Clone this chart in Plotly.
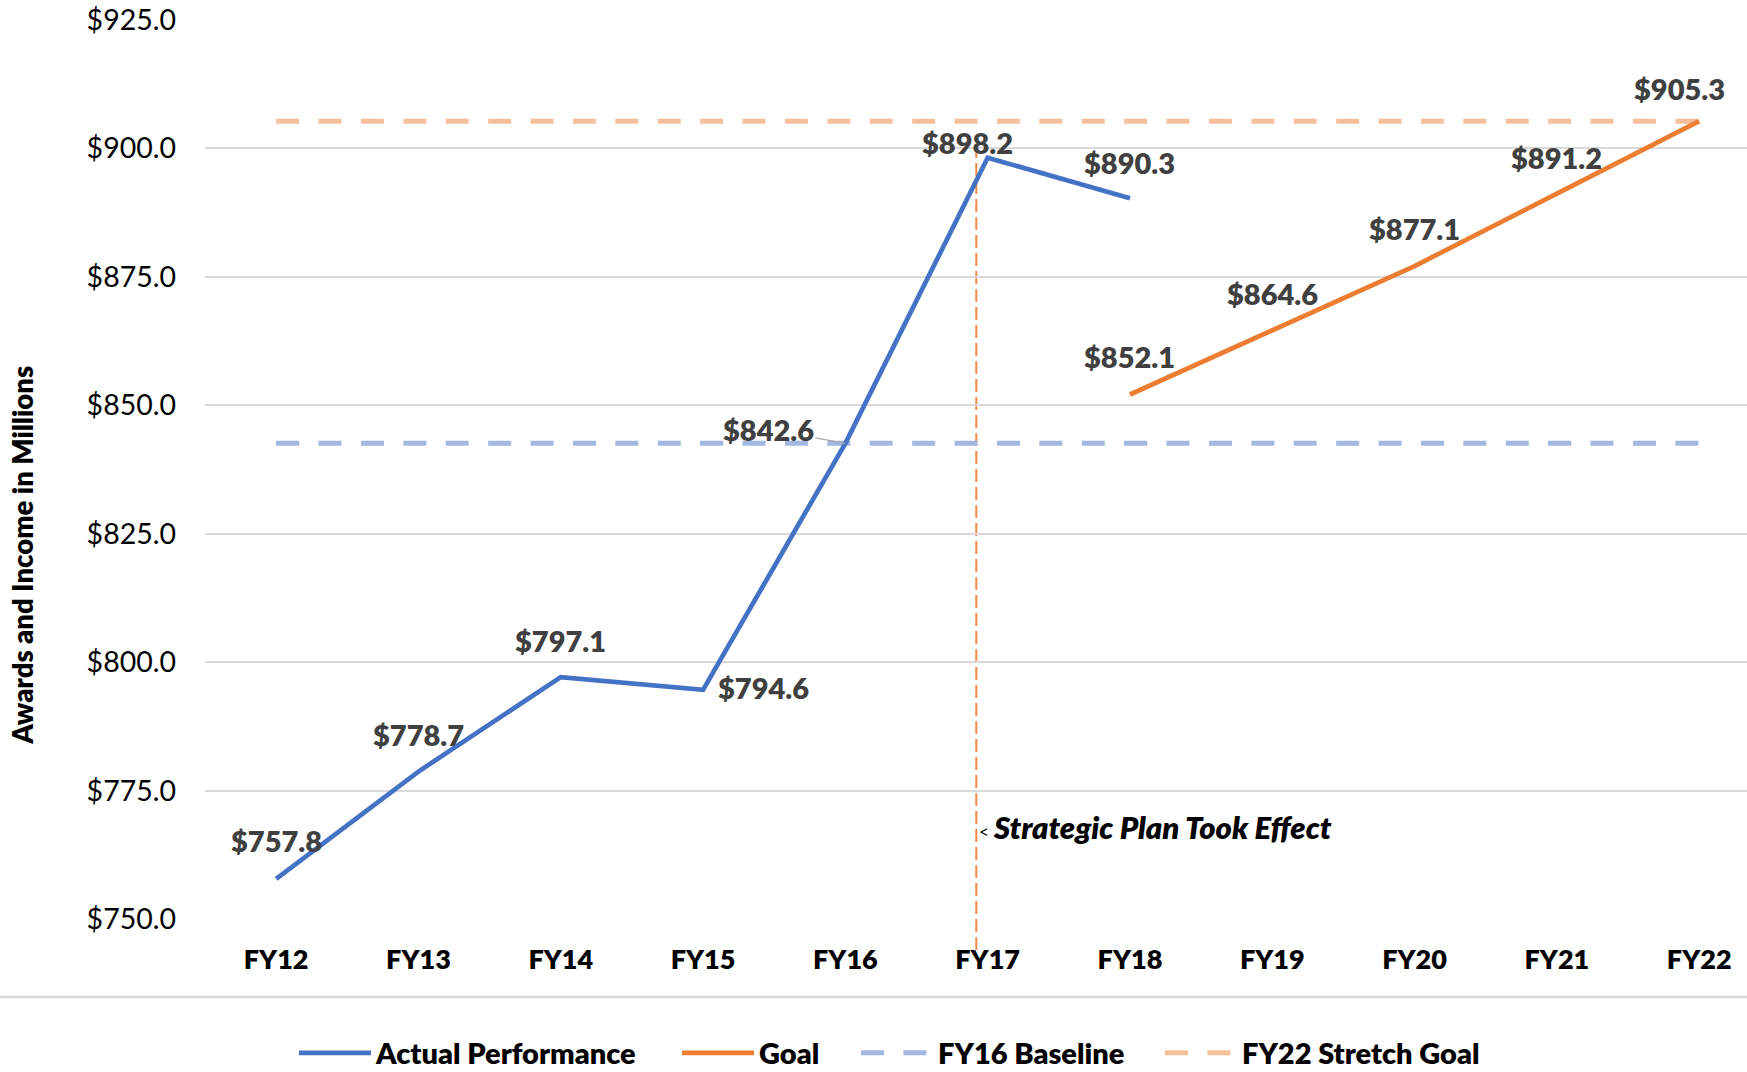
import plotly.graph_objects as go

# ---------------- data ----------------
years = ["FY12", "FY13", "FY14", "FY15", "FY16", "FY17", "FY18", "FY19", "FY20", "FY21", "FY22"]
actual_years = ["FY12", "FY13", "FY14", "FY15", "FY16", "FY17", "FY18"]
actual_values = [757.8, 778.7, 797.1, 794.6, 842.6, 898.2, 890.3]
goal_years = ["FY18", "FY19", "FY20", "FY21", "FY22"]
goal_values = [852.1, 864.6, 877.1, 891.2, 905.3]
baseline_value = 842.6
stretch_value = 905.3
plan_year = "FY17"
y_ticks = [750, 775, 800, 825, 850, 875, 900, 925]

# ---------------- style ----------------
FONT = "Lato"
BLUE = "#4472C4"
ORANGE = "#ED7D31"
LIGHT_BLUE = "#A2B8E2"
LIGHT_ORANGE = "#F6BF9C"
LABEL_GREY = "#404040"
GRID = "#D9D9D9"
REF_DASH = "23px,19.4px"

fig = go.Figure()

fig.add_trace(go.Scatter(
    x=years, y=[baseline_value] * len(years), mode="lines", name="FY16 Baseline",
    legend="legend3", line=dict(color=LIGHT_BLUE, width=5, dash=REF_DASH), hoverinfo="skip"))
fig.add_trace(go.Scatter(
    x=years, y=[stretch_value] * len(years), mode="lines", name="FY22 Stretch Goal",
    legend="legend4", line=dict(color=LIGHT_ORANGE, width=5, dash=REF_DASH), hoverinfo="skip"))
fig.add_trace(go.Scatter(
    x=actual_years, y=actual_values, mode="lines", name="Actual Performance",
    legend="legend", line=dict(color=BLUE, width=4.7), hoverinfo="skip"))
fig.add_trace(go.Scatter(
    x=goal_years, y=goal_values, mode="lines", name="Goal",
    legend="legend2", line=dict(color=ORANGE, width=4.7), hoverinfo="skip"))

label_font = dict(family=FONT, size=29, color=LABEL_GREY, weight=800)

# label offsets in px (xshift, yshift)
actual_offsets = [(0, 38), (0, 37), (0, 37), (60, 2), None, (-20, 15), (0, 36)]
goal_offsets = [(0, 38), (0, 37), (0, 38), (0, 36), (-20, 33)]

annotations = []
for yr, v, off in zip(actual_years, actual_values, actual_offsets):
    txt = f"${v:.1f}"
    if off is None:
        annotations.append(dict(x=yr, y=v, xref="x", yref="y", text=txt, showarrow=True,
                                ax=-77, ay=-14, arrowhead=0, arrowwidth=1.2,
                                arrowcolor="#A6A6A6", standoff=0, font=label_font))
    else:
        annotations.append(dict(x=yr, y=v, xref="x", yref="y", text=txt, showarrow=False,
                                xshift=off[0], yshift=off[1], font=label_font))
for yr, v, off in zip(goal_years, goal_values, goal_offsets):
    annotations.append(dict(x=yr, y=v, xref="x", yref="y", text=f"${v:.1f}", showarrow=False,
                            xshift=off[0], yshift=off[1], font=label_font))

# strategic plan annotation
annotations.append(dict(x=plan_year, y=767.9, xref="x", yref="y", text="Strategic Plan Took Effect",
                        showarrow=False, xanchor="left", xshift=3,
                        font=dict(family=FONT, size=31, color="#000000", weight=800, style="italic")))
annotations.append(dict(x=plan_year, y=767.0, xref="x", yref="y", text="<",
                        showarrow=False, xanchor="left", xshift=-11,
                        font=dict(family=FONT, size=17, color="#000000")))

# y axis title
annotations.append(dict(x=-0.118, y=0.404, xref="paper", yref="paper",
                        text="Awards and Income in Millions", textangle=-90, showarrow=False,
                        xanchor="center", yanchor="middle",
                        font=dict(family=FONT, size=27.5, color="#000000", weight=800)))

shapes = [
    dict(type="line", xref="x", yref="paper", x0=plan_year, x1=plan_year, x0shift=-0.08, x1shift=-0.08,
         y0=-0.0345, y1=0.863, line=dict(color="#F08A48", width=2, dash="13px,5px"), layer="below"),
    dict(type="line", xref="paper", yref="paper", x0=-0.135, x1=1.0, y0=-0.0868, y1=-0.0868,
         line=dict(color=GRID, width=2.5)),
]

legend_common = dict(orientation="h", xanchor="left", y=-0.1490, yanchor="middle",
                     font=dict(family=FONT, size=29, color="#000000", weight=800),
                     itemwidth=72, bgcolor="rgba(0,0,0,0)")

fig.update_layout(
    width=1747, height=1072,
    margin=dict(l=205, r=0, t=20, b=153, autoexpand=False),
    paper_bgcolor="white", plot_bgcolor="white",
    font=dict(family=FONT, color="#000000"),
    showlegend=True,
    legend=dict(x=0.0577, **legend_common),
    legend2=dict(x=0.3061, **legend_common),
    legend3=dict(x=0.4222, **legend_common),
    legend4=dict(x=0.6193, **legend_common),
    xaxis=dict(type="category", categoryorder="array", categoryarray=years,
               range=[-0.5, 10.336], showgrid=False, zeroline=False, showline=False,
               ticks="", ticklabelstandoff=22, automargin=False,
               tickfont=dict(family=FONT, size=27, color="#000000", weight=800)),
    yaxis=dict(range=[750, 925], tickvals=y_ticks, tickformat="$.1f",
               showgrid=True, gridcolor=GRID, gridwidth=1.8, zeroline=False, showline=False,
               ticks="", ticklabelstandoff=28, automargin=False,
               tickfont=dict(family=FONT, size=28.5, color="#000000")),
    annotations=annotations,
    shapes=shapes,
    hovermode=False,
)

fig.write_html("out.html", config={"displayModeBar": False},
               post_script="document.body.style.margin='0';document.body.style.overflow='hidden';")
